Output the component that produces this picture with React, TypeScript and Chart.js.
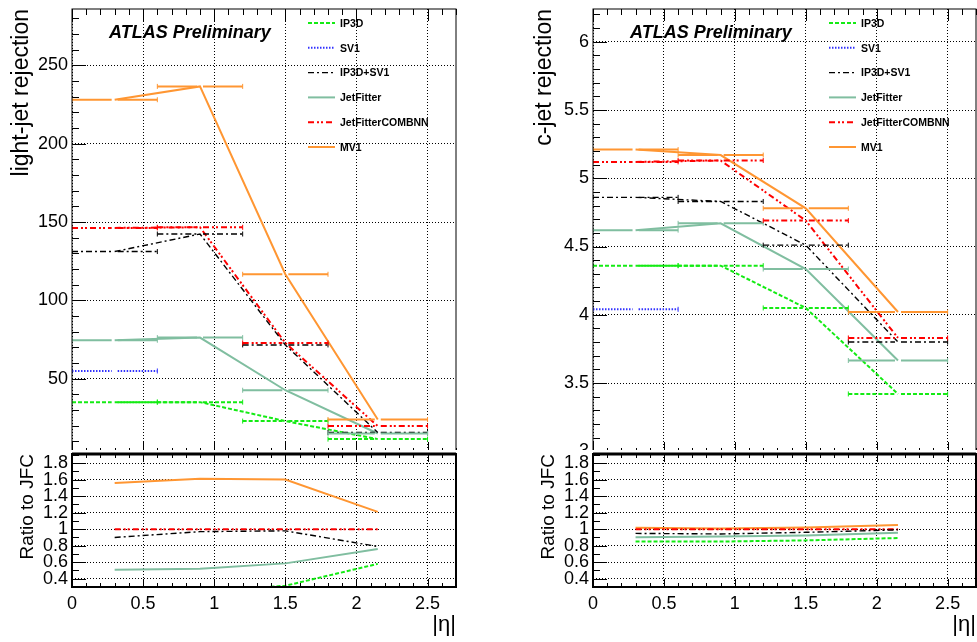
import React, { useEffect, useRef } from 'react';
import { Chart, registerables } from 'chart.js';
Chart.register(...registerables);

const FONT = "'Liberation Sans', Arial, Helvetica, sans-serif";

// eta bins
const etaCenters = [0.3, 0.9, 1.5, 2.15];
const etaLow = [0, 0.6, 1.2, 1.8];
const etaHigh = [0.6, 1.2, 1.8, 2.5];

// axis ticks
const xTicks = [0, 0.5, 1, 1.5, 2, 2.5];
const lightTicks = [50, 100, 150, 200, 250];
const charmTicks = [3, 3.5, 4, 4.5, 5, 5.5, 6];
const ratioTicks = [0.4, 0.6, 0.8, 1, 1.2, 1.4, 1.6, 1.8];

const taggerNames = ['IP3D', 'SV1', 'IP3D+SV1', 'JetFitter', 'JetFitterCOMBNN', 'MV1'];

// light-jet rejection
const lightIP3D = [35.1, 35.1, 23.0, 11.5];
const lightSV1 = [55.0, null, null, null];
const lightIP3DSV1 = [131.2, 142.4, 71.6, 15.7];
const lightJetFitter = [74.6, 76.3, 42.7, 15.1];
const lightJFC = [146.3, 146.7, 72.9, 19.8];
const lightMV1 = [228.1, 236.6, 116.7, 24.0];

// c-jet rejection
const charmIP3D = [4.36, 4.36, 4.05, 3.42];
const charmSV1 = [4.04, null, null, null];
const charmIP3DSV1 = [4.86, 4.83, 4.51, 3.80];
const charmJetFitter = [4.62, 4.67, 4.335, 3.665];
const charmJFC = [5.12, 5.13, 4.69, 3.83];
const charmMV1 = [5.21, 5.17, 4.78, 4.02];

// ratio to JetFitterCOMBNN, light
const lightRatioIP3D = [0.24, 0.24, 0.315, 0.58];
const lightRatioSV1 = [0.376, null, null, null];
const lightRatioIP3DSV1 = [0.90, 0.97, 0.98, 0.79];
const lightRatioJetFitter = [0.51, 0.52, 0.586, 0.76];
const lightRatioJFC = [1, 1, 1, 1];
const lightRatioMV1 = [1.56, 1.61, 1.60, 1.21];

// ratio to JetFitterCOMBNN, charm
const charmRatioIP3D = [0.852, 0.85, 0.864, 0.893];
const charmRatioSV1 = [0.789, null, null, null];
const charmRatioIP3DSV1 = [0.949, 0.942, 0.962, 0.992];
const charmRatioJetFitter = [0.902, 0.911, 0.924, 0.957];
const charmRatioJFC = [1, 1, 1, 1];
const charmRatioMV1 = [1.018, 1.008, 1.019, 1.05];

const taggerStyles = [
  { color: 'rgb(20,235,20)', dash: [4, 2], width: 2 },
  { color: 'rgb(50,50,255)', dash: [1.5, 1.5], width: 2 },
  { color: '#000000', dash: [6, 3, 2, 3], width: 1.4 },
  { color: 'rgb(128,190,160)', dash: [], width: 2 },
  { color: 'rgb(255,0,0)', dash: [6, 3, 2, 2, 2, 3], width: 2 },
  { color: 'rgb(255,150,50)', dash: [], width: 2 },
];

const rootDeco = {
  id: 'rootDeco',
  beforeDraw(chart: any) {
    const { ctx, width, height } = chart;
    ctx.save();
    ctx.fillStyle = '#fff';
    ctx.fillRect(0, 0, width, height);
    ctx.restore();
  },
  afterDatasetsDraw(chart: any, _args: any, o: any) {
    const { ctx, chartArea: a, scales } = chart;
    const xs = scales.x, ys = scales.y;
    // horizontal error bars
    ctx.save();
    ctx.beginPath();
    ctx.rect(a.left, a.top, a.right - a.left, a.bottom - a.top);
    ctx.clip();
    chart.data.datasets.forEach((ds: any) => {
      if (!ds.xLow) return;
      ctx.strokeStyle = ds.borderColor;
      ds.data.forEach((pt: any, j: number) => {
        if (pt.y == null) return;
        const py = ys.getPixelForValue(pt.y);
        const xl = xs.getPixelForValue(ds.xLow[j]);
        const xh = xs.getPixelForValue(ds.xHigh[j]);
        const xc = xs.getPixelForValue(pt.x);
        ctx.lineWidth = ds.borderWidth;
        ctx.setLineDash(ds.borderDash);
        ctx.beginPath();
        ctx.moveTo(xl, py); ctx.lineTo(xc - 3, py);
        ctx.moveTo(xc + 3, py); ctx.lineTo(xh, py);
        ctx.stroke();
        ctx.setLineDash([]);
        ctx.lineWidth = 1;
        ctx.beginPath();
        ctx.moveTo(xl, py - 2.5); ctx.lineTo(xl, py + 2.5);
        ctx.moveTo(xh, py - 2.5); ctx.lineTo(xh, py + 2.5);
        ctx.stroke();
      });
    });
    ctx.restore();

    // axis tick marks (inward)
    ctx.save();
    ctx.strokeStyle = '#000';
    ctx.lineWidth = 1;
    ctx.beginPath();
    for (let k = 0; k <= 27; k++) {
      const px = Math.round(xs.getPixelForValue(k / 10)) + 0.5;
      const len = k % 5 === 0 ? o.xMajor : o.xMinor;
      ctx.moveTo(px, a.top); ctx.lineTo(px, a.top + len);
      ctx.moveTo(px, a.bottom); ctx.lineTo(px, a.bottom - len);
    }
    const nMinor = Math.round((o.yMax - o.yMinorStart) / o.yMinorStep);
    for (let k = 0; k <= nMinor; k++) {
      const v = o.yMinorStart + k * o.yMinorStep;
      if (v < ys.min || v > ys.max) continue;
      const major = o.yTicks.some((t: number) => Math.abs(t - v) < o.yMinorStep / 10);
      const py = Math.round(ys.getPixelForValue(v)) + 0.5;
      ctx.moveTo(a.left, py); ctx.lineTo(a.left + (major ? 14 : 7), py);
    }
    ctx.stroke();

    // frame
    ctx.lineWidth = o.frameWidth;
    ctx.strokeRect(a.left, a.top, a.right - a.left, a.bottom - a.top);
    if (o.topWidth) {
      ctx.lineWidth = o.topWidth;
      ctx.beginPath();
      ctx.moveTo(a.left, a.top); ctx.lineTo(a.right, a.top);
      ctx.stroke();
    }

    if (o.atlas) {
      ctx.fillStyle = '#000';
      ctx.font = `italic bold 18px ${FONT}`;
      ctx.textBaseline = 'alphabetic';
      ctx.textAlign = 'left';
      ctx.fillText('ATLAS Preliminary', a.left + 37, a.top + 29);
    }
    if (o.legend) {
      chart.data.datasets.forEach((ds: any, i: number) => {
        const y = a.top + 14 + i * 24.8;
        const x0 = a.left + 236;
        ctx.strokeStyle = ds.borderColor;
        ctx.lineWidth = ds.borderWidth;
        ctx.setLineDash(ds.borderDash);
        ctx.beginPath();
        ctx.moveTo(x0, y); ctx.lineTo(x0 + 27, y);
        ctx.stroke();
        ctx.setLineDash([]);
        ctx.fillStyle = '#000';
        ctx.font = `bold 10.5px ${FONT}`;
        ctx.textBaseline = 'middle';
        ctx.textAlign = 'left';
        ctx.fillText(ds.label, x0 + 32, y + 1);
      });
    }
    ctx.restore();
  },
};

type Spec = {
  series: (number | null)[][];
  errorBars: boolean;
  yMin: number; yMax: number; yTicks: number[];
  yMinorStart: number; yMinorStep: number;
  yTitle: string; yTitleSize: number; yTitlePad: number; yWidth: number;
  showX: boolean;
  padding: { top: number; right: number; bottom: number; left: number };
  top: boolean;
};

function fmt(v: number) {
  return String(parseFloat(Number(v).toFixed(3)));
}

function buildConfig(s: Spec): any {
  return {
    type: 'line',
    data: {
      datasets: s.series.map((vals, i) => ({
        label: taggerNames[i],
        data: etaCenters.map((x, j) => ({ x, y: vals[j] })),
        borderColor: taggerStyles[i].color,
        borderDash: taggerStyles[i].dash,
        borderWidth: taggerStyles[i].width,
        pointRadius: 0,
        pointHoverRadius: 0,
        fill: false,
        tension: 0,
        spanGaps: false,
        xLow: s.errorBars ? etaLow : null,
        xHigh: s.errorBars ? etaHigh : null,
      })),
    },
    options: {
      responsive: false,
      animation: false,
      events: [],
      layout: { padding: s.padding },
      plugins: {
        legend: { display: false },
        tooltip: { enabled: false },
        rootDeco: {
          atlas: s.top,
          legend: s.top,
          frameWidth: s.top ? 1 : 2,
          topWidth: s.top ? 0 : 3,
          xMajor: s.top ? 12 : 8,
          xMinor: s.top ? 6 : 4,
          yTicks: s.yTicks,
          yMax: s.yMax,
          yMinorStart: s.yMinorStart,
          yMinorStep: s.yMinorStep,
        },
      },
      scales: {
        x: {
          type: 'linear',
          min: 0,
          max: 2.7,
          afterBuildTicks: (sc: any) => { sc.ticks = xTicks.map((v) => ({ value: v })); },
          afterFit: (sc: any) => {
            sc.height = s.showX ? 55 : 0;
            sc.paddingLeft = 0; sc.paddingRight = 0; sc.paddingTop = 0; sc.paddingBottom = 0;
          },
          ticks: {
            display: s.showX,
            autoSkip: false,
            maxRotation: 0,
            padding: 6,
            color: '#000',
            font: { family: FONT, size: 18 },
            callback: (v: any) => fmt(v),
          },
          grid: { color: '#000', lineWidth: 1, drawTicks: false },
          border: { display: false, dash: [1, 2] },
          title: {
            display: s.showX,
            text: '|η|',
            align: 'end',
            color: '#000',
            font: { family: FONT, size: 22, lineHeight: 1 },
            padding: { top: 0, bottom: 6 },
          },
        },
        y: {
          type: 'linear',
          min: s.yMin,
          max: s.yMax,
          afterBuildTicks: (sc: any) => { sc.ticks = s.yTicks.map((v) => ({ value: v })); },
          afterFit: (sc: any) => {
            sc.width = s.yWidth;
            sc.paddingLeft = 0; sc.paddingRight = 0; sc.paddingTop = 0; sc.paddingBottom = 0;
          },
          ticks: {
            autoSkip: false,
            padding: 4,
            color: '#000',
            font: { family: FONT, size: 18 },
            callback: (v: any) => fmt(v),
          },
          grid: { color: '#000', lineWidth: 1, drawTicks: false },
          border: { display: false, dash: [1, 2] },
          title: {
            display: true,
            text: s.yTitle,
            align: 'end',
            color: '#000',
            font: { family: FONT, size: s.yTitleSize, lineHeight: 1 },
            padding: { top: s.yTitlePad, bottom: 0 },
          },
        },
      },
    },
    plugins: [rootDeco],
  };
}

function Panel({ spec, left, top, width, height }: { spec: Spec; left: number; top: number; width: number; height: number }) {
  const ref = useRef<HTMLCanvasElement>(null);
  useEffect(() => {
    const chart = new Chart(ref.current as HTMLCanvasElement, buildConfig(spec));
    return () => chart.destroy();
  }, []);
  return (
    <canvas
      ref={ref}
      width={width}
      height={height}
      style={{ position: 'absolute', left, top, width, height }}
    />
  );
}

const lightSpec: Spec = {
  series: [lightIP3D, lightSV1, lightIP3DSV1, lightJetFitter, lightJFC, lightMV1],
  errorBars: true,
  yMin: 2, yMax: 286, yTicks: lightTicks, yMinorStart: 10, yMinorStep: 10,
  yTitle: 'light-jet rejection', yTitleSize: 23, yTitlePad: 10, yWidth: 72,
  showX: false,
  padding: { top: 9, right: 14, bottom: 6, left: 0 },
  top: true,
};
const lightRatioSpec: Spec = {
  series: [lightRatioIP3D, lightRatioSV1, lightRatioIP3DSV1, lightRatioJetFitter, lightRatioJFC, lightRatioMV1],
  errorBars: false,
  yMin: 0.3, yMax: 1.91, yTicks: ratioTicks, yMinorStart: 0.3, yMinorStep: 0.1,
  yTitle: 'Ratio to JFC', yTitleSize: 19, yTitlePad: 18, yWidth: 72,
  showX: true,
  padding: { top: 4, right: 14, bottom: 0, left: 0 },
  top: false,
};
const charmSpec: Spec = {
  series: [charmIP3D, charmSV1, charmIP3DSV1, charmJetFitter, charmJFC, charmMV1],
  errorBars: true,
  yMin: 2.98, yMax: 6.24, yTicks: charmTicks, yMinorStart: 3, yMinorStep: 0.1,
  yTitle: 'c-jet rejection', yTitleSize: 23, yTitlePad: 13, yWidth: 73,
  showX: false,
  padding: { top: 9, right: 1, bottom: 6, left: 0 },
  top: true,
};
const charmRatioSpec: Spec = {
  series: [charmRatioIP3D, charmRatioSV1, charmRatioIP3DSV1, charmRatioJetFitter, charmRatioJFC, charmRatioMV1],
  errorBars: false,
  yMin: 0.3, yMax: 1.91, yTicks: ratioTicks, yMinorStart: 0.3, yMinorStep: 0.1,
  yTitle: 'Ratio to JFC', yTitleSize: 19, yTitlePad: 19, yWidth: 73,
  showX: true,
  padding: { top: 4, right: 1, bottom: 0, left: 0 },
  top: false,
};

export default function App() {
  return (
    <div style={{ position: 'absolute', left: 0, top: 0, width: 977, height: 642, background: '#fff', overflow: 'hidden' }}>
      <Panel spec={lightSpec} left={0} top={0} width={470} height={460} />
      <Panel spec={charmSpec} left={520} top={0} width={457} height={460} />
      <Panel spec={lightRatioSpec} left={0} top={450} width={470} height={192} />
      <Panel spec={charmRatioSpec} left={520} top={450} width={457} height={192} />
    </div>
  );
}
